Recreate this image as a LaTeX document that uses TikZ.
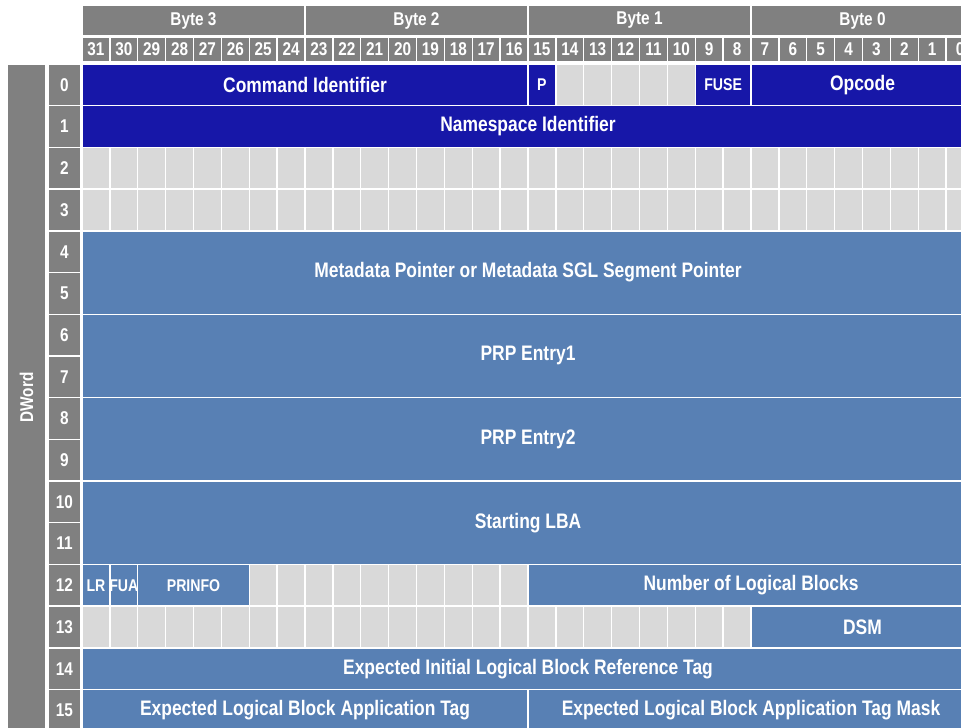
\documentclass[tikz,border=0pt]{standalone}
\usepackage{fontspec}
\setmainfont{Liberation Sans}[FakeStretch=0.83]
\usetikzlibrary{fit}
\definecolor{hdrgray}{HTML}{808080}
\definecolor{rsvgray}{HTML}{D9D9D9}
\definecolor{navy}{HTML}{1717A8}
\definecolor{steel}{HTML}{5880B4}
\begin{document}
\begin{tikzpicture}[x=27.875pt,y=41.7pt,
  cell/.style={draw=white, line width=1.4pt, inner sep=0pt},
  hdr/.style={cell, fill=hdrgray},
  rsv/.style={cell, fill=rsvgray},
  cmd/.style={cell, fill=navy},
  fld/.style={cell, fill=steel},
  big/.style={text=white, font=\bfseries\fontsize{21}{22}\selectfont},
  mid/.style={text=white, font=\bfseries\fontsize{18.5}{19}\selectfont},
  tiny/.style={text=white, font=\bfseries\fontsize{17}{18}\selectfont},
  txt/.style={label={[big]center:#1}},
  hdrtxt/.style={label={[mid]center:#1}},
  smalltxt/.style={label={[tiny]center:#1}}]
\useasboundingbox (-2.9417,1.5348) rectangle (31.533,-15.899);
\clip (-2.9417,1.5348) rectangle (31.533,-15.899);
\foreach \B in {0,...,3}
  \node[hdr, hdrtxt={Byte \B}, fit={(24-8*\B,1.415) (32-8*\B,0.671)}] (byte\B) {};
\foreach \b in {0,...,31}
  \node[hdr, hdrtxt=\b, fit={(31-\b,0.647) (32-\b,0.048)}] (bit\b) {};
\node[hdr, fit={(-2.69,0) (-1.29,-16)}] (dword) {};
\node[mid, rotate=90] (dwordtxt) at (dword) {DWord};
\foreach \r in {0,...,15}
  \node[hdr, hdrtxt=\r, fit={(-1.22,-\r) (-0.036,-\r-1)}] (row\r) {};
\node[cmd, txt={Command Identifier}, fit={(0,0) (16,-1)}] (cid) {};
\node[cmd, smalltxt=P, fit={(16,0) (17,-1)}] (pbit) {};
\foreach \b in {10,...,14}
  \node[rsv, fit={(31-\b,0) (32-\b,-1)}] (rsv0-\b) {};
\node[cmd, smalltxt=FUSE, fit={(22,0) (24,-1)}] (fuse) {};
\node[cmd, txt=Opcode, fit={(24,0) (32,-1)}] (opc) {};
\node[cmd, txt={Namespace Identifier}, fit={(0,-1) (32,-2)}] (nsid) {};
\foreach \r in {2,3}
  \foreach \k in {0,...,31}
    \node[rsv, fit={(\k,-\r) (\k+1,-\r-1)}] (rsv\r-\k) {};
\node[fld, txt={Metadata Pointer or Metadata SGL Segment Pointer}, fit={(0,-4) (32,-6)}] (mptr) {};
\node[fld, txt={PRP Entry1}, fit={(0,-6) (32,-8)}] (prp1) {};
\node[fld, txt={PRP Entry2}, fit={(0,-8) (32,-10)}] (prp2) {};
\node[fld, txt={Starting LBA}, fit={(0,-10) (32,-12)}] (slba) {};
\node[fld, smalltxt=LR, fit={(0,-12) (1,-13)}] (lr) {};
\node[fld, smalltxt=FUA, fit={(1,-12) (2,-13)}] (fua) {};
\node[fld, smalltxt=PRINFO, fit={(2,-12) (6,-13)}] (prinfo) {};
\foreach \k in {6,...,15}
  \node[rsv, fit={(\k,-12) (\k+1,-13)}] (rsv12-\k) {};
\node[fld, txt={Number of Logical Blocks}, fit={(16,-12) (32,-13)}] (nlb) {};
\foreach \k in {0,...,23}
  \node[rsv, fit={(\k,-13) (\k+1,-14)}] (rsv13-\k) {};
\node[fld, txt=DSM, fit={(24,-13) (32,-14)}] (dsm) {};
\node[fld, txt={Expected Initial Logical Block Reference Tag}, fit={(0,-14) (32,-15)}] (eilbrt) {};
\node[fld, txt={Expected Logical Block Application Tag}, fit={(0,-15) (16,-16)}] (elbat) {};
\node[fld, txt={Expected Logical Block Application Tag Mask}, fit={(16,-15) (32,-16)}] (elbatm) {};
\end{tikzpicture}
\end{document}
